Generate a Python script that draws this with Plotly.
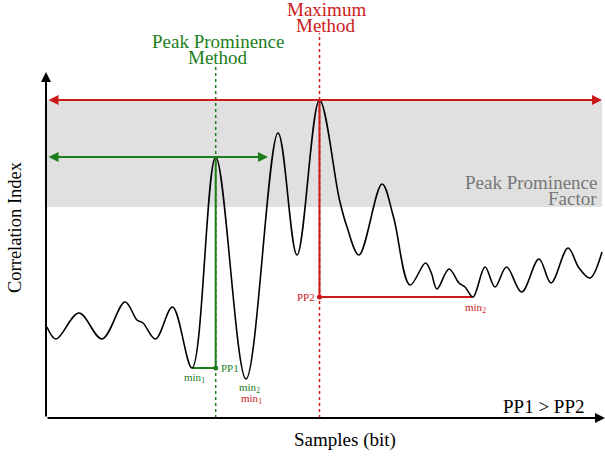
import plotly.graph_objects as go

# Samples (bit) and correlation index (arbitrary units) of the schematic curve
samples = [1, 10, 33, 56, 79, 91, 97, 109.5, 126.5, 146, 169.7, 200, 232, 251, 273.5,
           293.5, 301, 313, 336, 347.5, 364, 379.5, 385, 391, 403, 413, 419, 427, 439,
           449, 460.5, 475.6, 493, 505, 522, 533, 544, 556]
corr = [91, 79, 105, 79, 116, 98, 95, 79, 111, 50, 261, 39, 285, 163, 318,
        218, 191, 163, 234, 201, 133, 155, 146, 129, 149, 135, 131, 121, 151,
        131, 151, 126, 159, 135, 170, 150, 140, 166]

pp_peak_idx = 10     # peak chosen by peak prominence method
pp_min1_idx = 9
pp_min2_idx = 11
max_peak_idx = 14    # global maximum
max_min2_idx = 27

band_low = 211       # lower edge of peak prominence factor band
x_end = 556
green_arrow_end = 222

GREEN = "#1d7d1d"
RED = "#cc1a1a"
FONT = "'Liberation Serif', 'Times New Roman', serif"

fig = go.Figure()

# gray band
fig.add_shape(type="rect", x0=0, x1=x_end, y0=band_low, y1=corr[max_peak_idx],
              fillcolor="#e0e0e0", line_width=0, layer="below")

# dotted verticals
fig.add_shape(type="line", x0=samples[pp_peak_idx], x1=samples[pp_peak_idx], y0=0, y1=351,
              line=dict(color=GREEN, width=1.5, dash="dot"))
fig.add_shape(type="line", x0=samples[max_peak_idx], x1=samples[max_peak_idx], y0=0, y1=385,
              line=dict(color=RED, width=1.5, dash="dot"))

# prominence lines
pp1_x, pp1_y = samples[pp_peak_idx], corr[pp_min1_idx]
pp2_x, pp2_y = samples[max_peak_idx], corr[max_min2_idx]
fig.add_trace(go.Scatter(x=[samples[pp_min1_idx], pp1_x, pp1_x], y=[pp1_y, pp1_y, corr[pp_peak_idx]],
                         mode="lines", line=dict(color=GREEN, width=2), hoverinfo="skip"))
fig.add_trace(go.Scatter(x=[samples[max_min2_idx], pp2_x, pp2_x], y=[pp2_y, pp2_y, corr[max_peak_idx]],
                         mode="lines", line=dict(color=RED, width=2), hoverinfo="skip"))

# curve
fig.add_trace(go.Scatter(x=samples, y=corr, mode="lines",
                         line=dict(color="black", width=1.6, shape="spline", smoothing=1.0)))

# PP markers
fig.add_trace(go.Scatter(x=[pp1_x], y=[pp1_y], mode="markers", marker=dict(color=GREEN, size=5)))
fig.add_trace(go.Scatter(x=[pp2_x], y=[pp2_y], mode="markers", marker=dict(color=RED, size=5)))

def arrow(x, y, ax, ay, color, both=False, width=2, head=2, size=1.0):
    fig.add_annotation(x=x, y=y, ax=ax, ay=ay, xref="x", yref="y", axref="x", ayref="y",
                       showarrow=True, arrowhead=head, startarrowhead=head,
                       arrowside="end+start" if both else "end",
                       arrowsize=size, startarrowsize=size,
                       arrowwidth=width, arrowcolor=color, text="", standoff=0, startstandoff=0)

# axes
arrow(0, 346, 0, 0, "black", width=2, head=2, size=1.0)
arrow(559, 0, 0, 0, "black", width=2, head=2, size=1.0)
# horizontal arrows
arrow(x_end, corr[max_peak_idx], 1, corr[max_peak_idx], RED, both=True, width=2)
arrow(green_arrow_end, corr[pp_peak_idx], 1, corr[pp_peak_idx], GREEN, both=True, width=2)

def text(x, y, s, color="black", size=19, xanchor="center", yanchor="middle", align="center", angle=0):
    fig.add_annotation(x=x, y=y, xref="x", yref="y", text=s, showarrow=False,
                       font=dict(family=FONT, size=size, color=color),
                       xanchor=xanchor, yanchor=yanchor, align=align, textangle=angle)

text(280, 409, "Maximum", RED, 19)
text(280, 393, "Method", RED, 19)
text(172, 377, "Peak Prominence", GREEN, 19)
text(172, 361, "Method", GREEN, 19)
text(553, 236, "Peak Prominence", "#777777", 19, xanchor="right")
text(553, 220, "Factor", "#777777", 19, xanchor="right")
text(-31, 191, "Correlation Index", "black", 18.5, angle=-90)
text(299, -22, "Samples (bit)", "black", 19)
text(540, 12, "PP1 &gt; PP2", "black", 19, xanchor="right")
text(pp1_x + 3, pp1_y, "PP1", GREEN, 11, xanchor="left")
text(148, 40, "min<sub>1</sub>", GREEN, 11)
text(203, 30, "min<sub>2</sub>", GREEN, 11)
text(205, 19, "min<sub>1</sub>", RED, 11)
text(pp2_x - 3, pp2_y, "PP2", RED, 11, xanchor="right")
text(429, 110, "min<sub>2</sub>", RED, 11)

fig.update_layout(width=605, height=456, margin=dict(l=0, r=0, t=0, b=0),
                  paper_bgcolor="white", plot_bgcolor="white", showlegend=False,
                  font=dict(family=FONT),
                  xaxis=dict(range=[-46, 559], visible=False, fixedrange=True),
                  yaxis=dict(range=[-38, 418], visible=False, fixedrange=True))

fig.write_html("out.html", post_script="document.body.style.margin='0';",
               config={"displayModeBar": False})
